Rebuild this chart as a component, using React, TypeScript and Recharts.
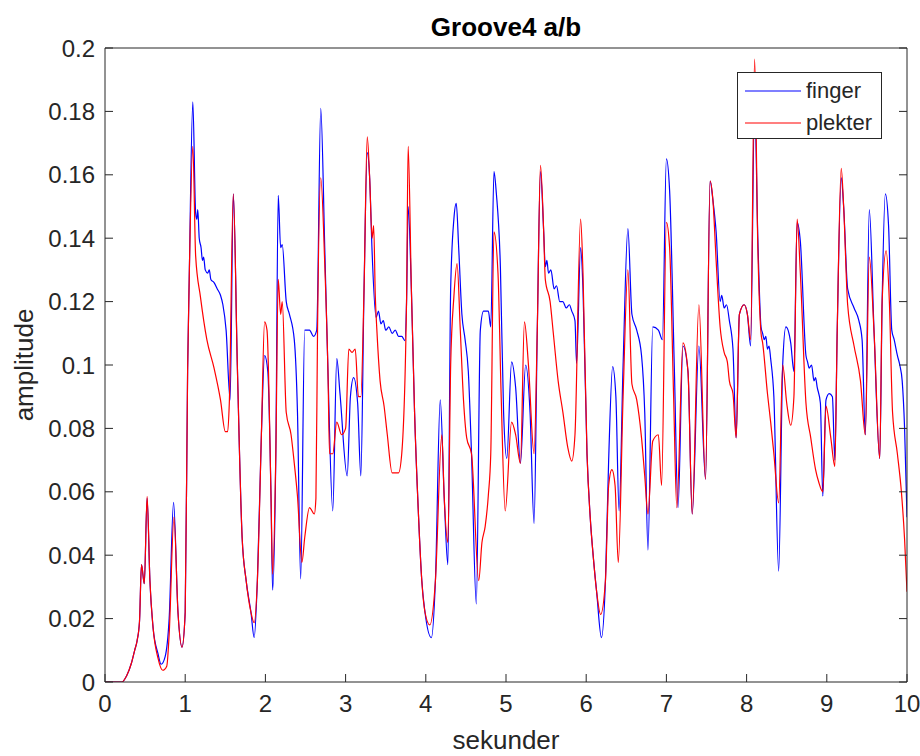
import { Legend, Line, LineChart, XAxis, YAxis } from "recharts";

const FONT = '"Liberation Sans", Arial, Helvetica, sans-serif';
const INK = "#262626";
const TICK_LEN = 8;

const xTicks = [0, 1, 2, 3, 4, 5, 6, 7, 8, 9, 10];
const yTicks = [0, 0.02, 0.04, 0.06, 0.08, 0.1, 0.12, 0.14, 0.16, 0.18, 0.2];

// [sekunder, amplitude]
const finger: [number, number][] = [
  [0, 0], [0.21, 0], [0.27, 0.002], [0.33, 0.006], [0.37, 0.01], [0.4, 0.013],
  [0.43, 0.019], [0.455, 0.037], [0.49, 0.031], [0.525, 0.058], [0.56, 0.032],
  [0.6, 0.017], [0.66, 0.009], [0.7, 0.0056], [0.75, 0.008], [0.8, 0.02],
  [0.855, 0.0567], [0.91, 0.022], [0.96, 0.011], [1.0, 0.022], [1.03, 0.098],
  [1.05, 0.127], [1.095, 0.183], [1.13, 0.148], [1.145, 0.146], [1.157, 0.149],
  [1.175, 0.14], [1.198, 0.137], [1.215, 0.133], [1.23, 0.134], [1.25, 0.13],
  [1.28, 0.129], [1.3, 0.13], [1.32, 0.127], [1.36, 0.126], [1.4, 0.124],
  [1.44, 0.122], [1.47, 0.119], [1.51, 0.111], [1.56, 0.089], [1.6, 0.154],
  [1.65, 0.1], [1.71, 0.0455], [1.76, 0.032], [1.82, 0.022], [1.86, 0.014],
  [1.9, 0.032], [1.95, 0.078], [1.99, 0.103], [2.03, 0.098], [2.07, 0.0586],
  [2.09, 0.029], [2.13, 0.072], [2.16, 0.1535], [2.19, 0.137], [2.21, 0.138],
  [2.26, 0.12], [2.3, 0.116], [2.36, 0.108], [2.4, 0.085], [2.44, 0.0325],
  [2.49, 0.111], [2.55, 0.111], [2.6, 0.109], [2.64, 0.111], [2.69, 0.181],
  [2.74, 0.137], [2.78, 0.098], [2.84, 0.054], [2.89, 0.102], [2.93, 0.091],
  [3.02, 0.065], [3.06, 0.09], [3.1, 0.096], [3.15, 0.088], [3.19, 0.065],
  [3.23, 0.124], [3.27, 0.167], [3.3, 0.159], [3.33, 0.136], [3.38, 0.115],
  [3.41, 0.117], [3.44, 0.113], [3.47, 0.114], [3.5, 0.111], [3.54, 0.112],
  [3.58, 0.11], [3.62, 0.111], [3.66, 0.109], [3.7, 0.109], [3.74, 0.1077],
  [3.76, 0.12], [3.78, 0.15], [3.82, 0.124], [3.86, 0.085], [3.91, 0.052],
  [3.95, 0.032], [3.99, 0.022], [4.07, 0.014], [4.12, 0.032], [4.18, 0.089],
  [4.23, 0.058], [4.275, 0.037], [4.31, 0.124], [4.35, 0.146], [4.38, 0.151],
  [4.41, 0.137], [4.45, 0.116], [4.49, 0.108], [4.53, 0.098], [4.57, 0.072],
  [4.63, 0.0246], [4.68, 0.111], [4.72, 0.117], [4.78, 0.117], [4.81, 0.112],
  [4.85, 0.161], [4.88, 0.154], [4.93, 0.131], [4.97, 0.085], [5.01, 0.0705],
  [5.07, 0.101], [5.12, 0.093], [5.18, 0.069], [5.245, 0.1], [5.3, 0.085],
  [5.35, 0.05], [5.39, 0.111], [5.43, 0.161], [5.47, 0.142], [5.49, 0.131],
  [5.51, 0.133], [5.53, 0.129], [5.56, 0.13], [5.6, 0.124], [5.63, 0.125],
  [5.67, 0.12], [5.71, 0.12], [5.75, 0.118], [5.79, 0.119], [5.82, 0.117],
  [5.86, 0.114], [5.88, 0.1005], [5.93, 0.137], [5.96, 0.124], [6.01, 0.072],
  [6.05, 0.052], [6.09, 0.039], [6.13, 0.0285], [6.19, 0.014], [6.24, 0.032],
  [6.28, 0.07], [6.33, 0.0995], [6.37, 0.09], [6.41, 0.054], [6.46, 0.1],
  [6.52, 0.143], [6.57, 0.116], [6.63, 0.111], [6.69, 0.103], [6.73, 0.085],
  [6.77, 0.0416], [6.83, 0.112], [6.9, 0.111], [6.95, 0.108], [7.0, 0.165],
  [7.04, 0.155], [7.1, 0.098], [7.145, 0.055], [7.207, 0.106], [7.269, 0.098],
  [7.322, 0.053], [7.405, 0.106], [7.488, 0.064], [7.545, 0.158], [7.58, 0.152],
  [7.62, 0.142], [7.67, 0.12], [7.69, 0.122], [7.72, 0.118], [7.75, 0.119],
  [7.785, 0.114], [7.83, 0.105], [7.87, 0.077], [7.91, 0.116], [7.97, 0.119],
  [8.01, 0.116], [8.05, 0.106], [8.1, 0.183], [8.14, 0.14], [8.18, 0.112],
  [8.2, 0.11], [8.22, 0.108], [8.24, 0.109], [8.26, 0.105], [8.28, 0.106],
  [8.3, 0.102], [8.34, 0.09], [8.4, 0.035], [8.45, 0.1], [8.49, 0.112],
  [8.55, 0.107], [8.59, 0.098], [8.63, 0.145], [8.67, 0.139], [8.74, 0.103],
  [8.76, 0.101], [8.78, 0.099], [8.81, 0.1], [8.84, 0.095], [8.86, 0.096],
  [8.88, 0.093], [8.92, 0.088], [8.95, 0.0586], [8.99, 0.089], [9.03, 0.091],
  [9.07, 0.09], [9.1, 0.07], [9.13, 0.111], [9.18, 0.159], [9.21, 0.15],
  [9.26, 0.124], [9.34, 0.118], [9.4, 0.114], [9.44, 0.108], [9.48, 0.078],
  [9.53, 0.149], [9.59, 0.11], [9.66, 0.0705], [9.69, 0.12], [9.73, 0.154],
  [9.77, 0.144], [9.81, 0.111], [9.84, 0.108], [9.88, 0.103], [9.91, 0.1],
  [9.94, 0.095], [9.97, 0.08], [10, 0.052],
];

const plekter: [number, number][] = [
  [0, 0], [0.21, 0], [0.27, 0.002], [0.33, 0.006], [0.37, 0.01], [0.4, 0.013],
  [0.43, 0.019], [0.455, 0.037], [0.49, 0.031], [0.525, 0.0586], [0.56, 0.032],
  [0.6, 0.017], [0.66, 0.0076], [0.72, 0.0037], [0.77, 0.005], [0.8, 0.015],
  [0.86, 0.052], [0.91, 0.022], [0.96, 0.011], [1.0, 0.022], [1.03, 0.098],
  [1.05, 0.127], [1.095, 0.169], [1.13, 0.1345], [1.19, 0.1215], [1.27, 0.108],
  [1.36, 0.099], [1.44, 0.089], [1.5, 0.079], [1.53, 0.079], [1.55, 0.088],
  [1.6, 0.154], [1.65, 0.1], [1.71, 0.0455], [1.76, 0.032], [1.82, 0.022],
  [1.86, 0.0187], [1.9, 0.032], [1.95, 0.078], [1.99, 0.1136], [2.02, 0.111],
  [2.07, 0.0586], [2.09, 0.034], [2.13, 0.072], [2.16, 0.127], [2.19, 0.116],
  [2.21, 0.12], [2.26, 0.085], [2.32, 0.078], [2.36, 0.069], [2.4, 0.0586],
  [2.455, 0.0377], [2.49, 0.0455], [2.55, 0.055], [2.61, 0.053], [2.63, 0.058],
  [2.65, 0.111], [2.69, 0.159], [2.74, 0.132], [2.78, 0.098], [2.8, 0.072],
  [2.84, 0.072], [2.89, 0.082], [2.95, 0.078], [3.0, 0.08], [3.04, 0.105],
  [3.08, 0.104], [3.12, 0.105], [3.16, 0.09], [3.19, 0.09], [3.23, 0.124],
  [3.27, 0.172], [3.3, 0.159], [3.33, 0.14], [3.35, 0.144], [3.37, 0.122],
  [3.39, 0.111], [3.43, 0.095], [3.48, 0.087], [3.52, 0.078], [3.58, 0.066],
  [3.66, 0.066], [3.7, 0.072], [3.76, 0.12], [3.78, 0.169], [3.82, 0.124],
  [3.86, 0.085], [3.91, 0.052], [3.95, 0.032], [3.99, 0.022], [4.05, 0.018],
  [4.12, 0.032], [4.2, 0.078], [4.23, 0.058], [4.275, 0.044], [4.31, 0.1],
  [4.35, 0.1215], [4.39, 0.132], [4.43, 0.111], [4.47, 0.089], [4.51, 0.077],
  [4.57, 0.072], [4.66, 0.032], [4.7, 0.044], [4.74, 0.049], [4.78, 0.059],
  [4.81, 0.072], [4.85, 0.142], [4.9, 0.129], [4.94, 0.09], [4.99, 0.054],
  [5.07, 0.082], [5.12, 0.078], [5.18, 0.069], [5.23, 0.1136], [5.28, 0.1],
  [5.35, 0.072], [5.39, 0.111], [5.43, 0.163], [5.47, 0.142], [5.49, 0.127],
  [5.55, 0.12], [5.59, 0.11], [5.65, 0.095], [5.71, 0.085], [5.77, 0.074],
  [5.82, 0.0697], [5.86, 0.078], [5.93, 0.146], [5.96, 0.129], [6.01, 0.072],
  [6.05, 0.052], [6.09, 0.039], [6.13, 0.0285], [6.18, 0.0213], [6.24, 0.032],
  [6.28, 0.062], [6.32, 0.067], [6.36, 0.062], [6.4, 0.0377], [6.46, 0.09],
  [6.52, 0.13], [6.57, 0.094], [6.63, 0.089], [6.69, 0.077], [6.73, 0.065],
  [6.77, 0.053], [6.83, 0.076], [6.9, 0.078], [6.94, 0.062], [7.0, 0.145],
  [7.04, 0.137], [7.09, 0.09], [7.13, 0.055], [7.207, 0.107], [7.269, 0.098],
  [7.322, 0.053], [7.405, 0.119], [7.488, 0.064], [7.545, 0.158], [7.58, 0.152],
  [7.62, 0.133], [7.67, 0.112], [7.72, 0.104], [7.76, 0.101], [7.785, 0.095],
  [7.83, 0.091], [7.87, 0.077], [7.91, 0.116], [7.97, 0.119], [8.01, 0.116],
  [8.05, 0.108], [8.1, 0.1965], [8.14, 0.137], [8.18, 0.11], [8.2, 0.107],
  [8.26, 0.091], [8.3, 0.082], [8.34, 0.072], [8.4, 0.0565], [8.45, 0.1],
  [8.5, 0.088], [8.55, 0.081], [8.59, 0.09], [8.63, 0.146], [8.67, 0.129],
  [8.74, 0.088], [8.8, 0.077], [8.86, 0.067], [8.9, 0.063], [8.95, 0.06],
  [8.99, 0.087], [9.05, 0.077], [9.1, 0.068], [9.13, 0.111], [9.18, 0.162],
  [9.21, 0.15], [9.26, 0.119], [9.34, 0.106], [9.42, 0.095], [9.48, 0.078],
  [9.53, 0.134], [9.59, 0.11], [9.66, 0.0705], [9.69, 0.12], [9.74, 0.136],
  [9.78, 0.12], [9.82, 0.085], [9.88, 0.072], [9.93, 0.06], [9.97, 0.045],
  [10, 0.0285],
];

const toRows = (points: [number, number][]) => points.map(([t, v]) => ({ t, v }));

const formatAmplitude = (v: number) => String(Number(v.toFixed(2)));

// MATLAB-style ticks: short marks pointing into the plot box, labels outside
function BottomTick({ x, y, payload }: any) {
  return (
    <g>
      <line x1={x} y1={y} x2={x} y2={y - TICK_LEN} stroke={INK} />
      <text x={x} y={y + 13} dy="0.71em" textAnchor="middle" fill={INK} fontSize={24} fontFamily={FONT}>
        {payload.value}
      </text>
    </g>
  );
}

function LeftTick({ x, y, payload }: any) {
  return (
    <g>
      <line x1={x} y1={y} x2={x + TICK_LEN} y2={y} stroke={INK} />
      <text x={x - 10} y={y} dy="0.36em" textAnchor="end" fill={INK} fontSize={24} fontFamily={FONT}>
        {formatAmplitude(payload.value)}
      </text>
    </g>
  );
}

function TopTick({ x, y }: any) {
  return <line x1={x} y1={y} x2={x} y2={y + TICK_LEN} stroke={INK} />;
}

function RightTick({ x, y }: any) {
  return <line x1={x} y1={y} x2={x - TICK_LEN} y2={y} stroke={INK} />;
}

function LegendBox({ payload }: any) {
  return (
    <div
      style={{
        width: 143,
        height: 65,
        border: `1px solid ${INK}`,
        background: "#ffffff",
        fontFamily: FONT,
        fontSize: 22,
        color: INK,
      }}
    >
      {(payload ?? []).map((entry: any) => (
        <div
          key={entry.value}
          style={{ display: "flex", alignItems: "center", height: 29, marginTop: 3, paddingLeft: 7 }}
        >
          <svg width={56} height={4} style={{ marginRight: 5 }}>
            <line x1={0} y1={2} x2={56} y2={2} stroke={entry.color} strokeWidth={1.2} />
          </svg>
          <span style={{ lineHeight: "29px" }}>{entry.value}</span>
        </div>
      ))}
    </div>
  );
}

export default function App() {
  return (
    <div style={{ position: "absolute", left: 0, top: 0, width: 920, height: 756, background: "#ffffff" }}>
      <LineChart width={920} height={756} margin={{ top: 47, right: 12, bottom: 34, left: 45 }}>
        <XAxis
          xAxisId="main"
          dataKey="t"
          type="number"
          domain={[0, 10]}
          ticks={xTicks}
          allowDataOverflow
          height={40}
          stroke={INK}
          tickLine={false}
          tickSize={0}
          tickMargin={0}
          tick={<BottomTick />}
          label={{
            value: "sekunder",
            position: "bottom",
            offset: 9,
            style: { fill: INK, fontSize: 26, fontFamily: FONT },
          }}
        />
        <XAxis
          xAxisId="top"
          orientation="top"
          type="number"
          domain={[0, 10]}
          ticks={xTicks}
          allowDataOverflow
          height={1}
          stroke={INK}
          tickLine={false}
          tickSize={0}
          tickMargin={0}
          tick={<TopTick />}
          label={{
            value: "Groove4 a/b",
            position: "top",
            offset: 11,
            style: { fill: "#000000", fontSize: 26, fontWeight: "bold", fontFamily: FONT },
          }}
        />
        <YAxis
          yAxisId="main"
          type="number"
          domain={[0, 0.2]}
          ticks={yTicks}
          allowDataOverflow
          width={60}
          stroke={INK}
          tickLine={false}
          tickSize={0}
          tickMargin={0}
          tick={<LeftTick />}
          label={{
            value: "amplitude",
            angle: -90,
            position: "left",
            offset: 21,
            style: { fill: INK, fontSize: 26, fontFamily: FONT, textAnchor: "middle" },
          }}
        />
        <YAxis
          yAxisId="right"
          orientation="right"
          type="number"
          domain={[0, 0.2]}
          ticks={yTicks}
          allowDataOverflow
          width={1}
          stroke={INK}
          tickLine={false}
          tickSize={0}
          tickMargin={0}
          tick={<RightTick />}
        />
        <Legend
          layout="vertical"
          align="center"
          verticalAlign="middle"
          wrapperStyle={{ left: 737, top: 72, width: 145, height: 67 }}
          content={<LegendBox />}
        />
        <Line
          xAxisId="main"
          yAxisId="main"
          data={toRows(finger)}
          dataKey="v"
          name="finger"
          type="monotone"
          stroke="#0000ff"
          strokeWidth={1.2}
          dot={false}
          isAnimationActive={false}
        />
        <Line
          xAxisId="main"
          yAxisId="main"
          data={toRows(plekter)}
          dataKey="v"
          name="plekter"
          type="monotone"
          stroke="#ff0000"
          strokeWidth={1.2}
          dot={false}
          isAnimationActive={false}
        />
      </LineChart>
    </div>
  );
}
